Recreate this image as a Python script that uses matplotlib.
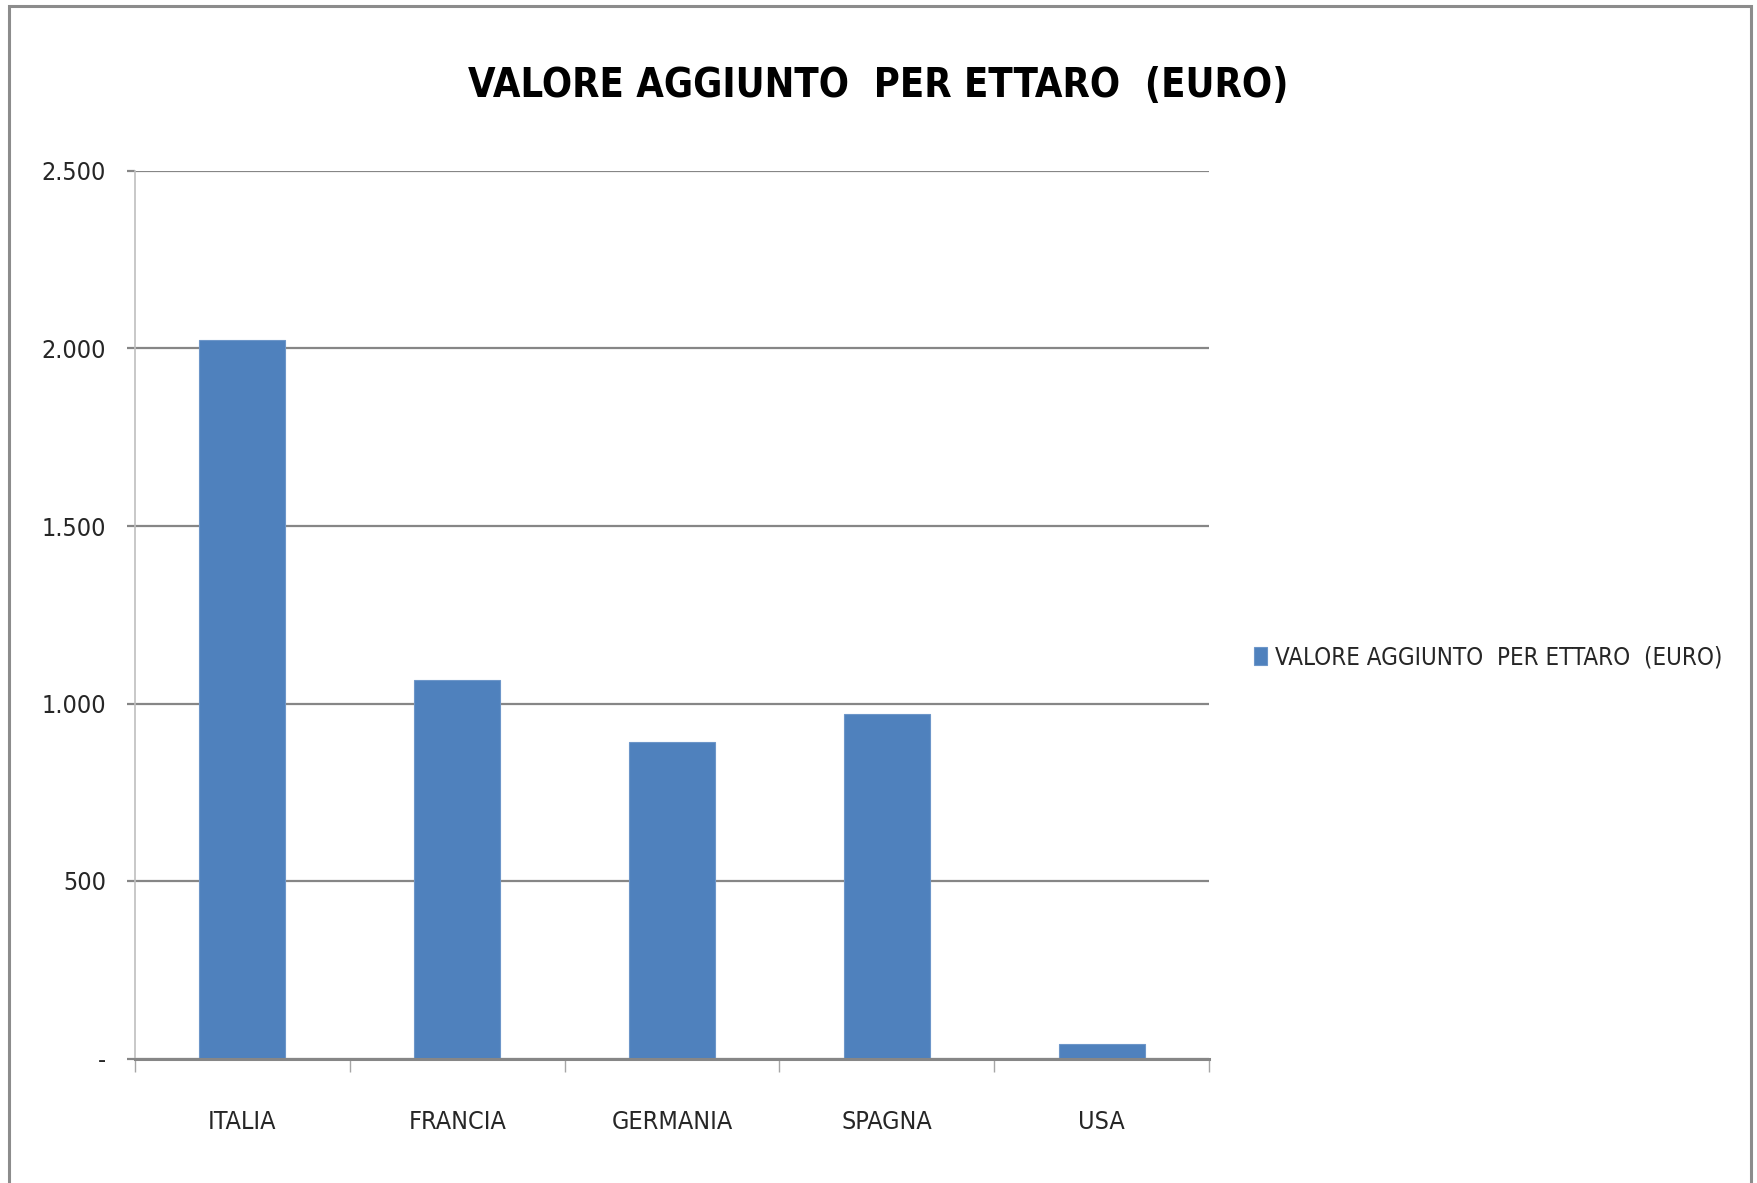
import matplotlib.pyplot as plt
import matplotlib.patches as mpatches

plt.rcParams["font.family"] = ["DejaVu Sans"]
plt.rcParams["font.stretch"] = "condensed"

# ── data ───────────────────────────────────────────────
categories = ["ITALIA", "FRANCIA", "GERMANIA", "SPAGNA", "USA"]
values = [2023, 1066, 891, 970, 42]
y_ticks = [0, 500, 1000, 1500, 2000, 2500]
y_labels = ["-", "500", "1.000", "1.500", "2.000", "2.500"]
series_name = "VALORE AGGIUNTO  PER ETTARO  (EURO)"

W, H = 1758, 1183
fig = plt.figure(figsize=(W / 100, H / 100), dpi=100)

# axes box in pixels: x 135..1209, y 171..1058
ax = fig.add_axes([135 / W, 1 - 1058.5 / H, (1209 - 135) / W, (1058.5 - 171) / H])

bar_color = "#4F81BD"
grid_color = "#868686"
text_color = "#262626"

x = list(range(len(categories)))
bars = ax.bar(x, values, width=0.4, color=bar_color, edgecolor="#6d96c9", lw=0.8,
              zorder=3, label=series_name)

ax.set_xlim(-0.5, len(categories) - 0.5)
ax.set_ylim(0, 2500)

ax.set_yticks(y_ticks)
ax.set_yticklabels(y_labels)
ax.yaxis.grid(True, color=grid_color, lw=1.6, zorder=0)
ax.tick_params(axis="y", length=6, width=1.6, color=grid_color, pad=15,
               labelsize=18, labelcolor=text_color)

ax.set_xticks(x)
ax.set_xticklabels(categories)
ax.set_xticks([i - 0.5 for i in range(len(categories) + 1)], minor=True)
ax.tick_params(axis="x", which="major", length=0, pad=37, labelsize=18, labelcolor=text_color)
ax.tick_params(axis="x", which="minor", length=9, width=1.0, color="#a6a6a6")

for s in ["top", "right"]:
    ax.spines[s].set_visible(False)
ax.spines["left"].set_color("#bfbfbf")
ax.spines["left"].set_linewidth(1.2)
ax.spines["bottom"].set_color(grid_color)
ax.spines["bottom"].set_linewidth(2.2)
ax.spines["bottom"].set_zorder(4)

# title
fig.text(878 / W, 1 - 86 / H, series_name, ha="center", va="center",
         fontsize=28.5, fontweight="bold", color="black")

# legend
fig.legend(handles=[bars], labels=[series_name], loc="center left",
           bbox_to_anchor=(1232 / W, 1 - 657 / H), frameon=False,
           fontsize=17.3, handlelength=0.56, handleheight=0.79, handletextpad=0.33,
           labelcolor=text_color)

# outer chart border
fig.add_artist(mpatches.Rectangle((9 / W, -0.05), (1751 - 9) / W, 1.05 - 6 / H,
                                  transform=fig.transFigure, facecolor="none",
                                  edgecolor="#8c8c8c", lw=2.2))

fig.savefig("out.png", dpi=100)
